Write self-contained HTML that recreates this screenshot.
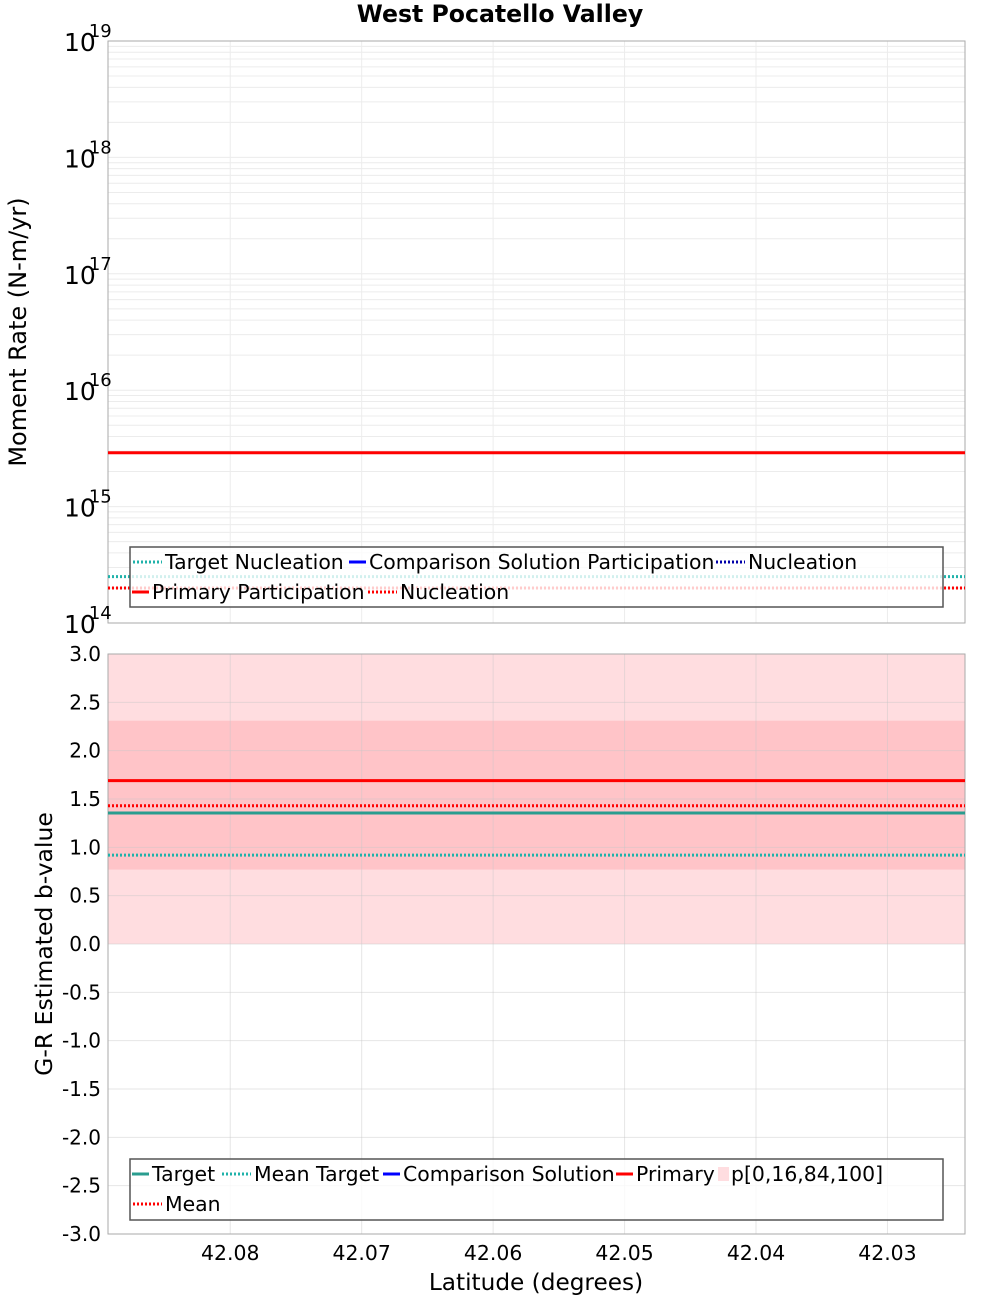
<!DOCTYPE html>
<html><head><meta charset="utf-8">
<style>
html,body{margin:0;padding:0;background:#fff;}
svg{display:block;font-family:"DejaVu Sans","Liberation Sans",sans-serif;}
</style></head>
<body>
<svg id="chart" width="1000" height="1300" viewBox="0 0 1000 1300"></svg>
<script>
// ---- data ----
const latRange = [42.0893, 42.0241]; // x domain (reversed)
const xTicks = [42.08, 42.07, 42.06, 42.05, 42.04, 42.03];
const topDecades = [14, 15, 16, 17, 18, 19];
const momentPrimary = 2.9e15;
const momentTargetNucleation = 2.5e14;
const momentNucleation = 2.0e14;
const bTicks = [3.0, 2.5, 2.0, 1.5, 1.0, 0.5, 0.0, -0.5, -1.0, -1.5, -2.0, -2.5, -3.0];
const bPrimary = 1.69;
const bMean = 1.43;
const bTarget = 1.355;
const bMeanTarget = 0.92;
const bBandOuter = [0.0, 3.0];
const bBandInner = [0.77, 2.31];

const NS = "http://www.w3.org/2000/svg";
const svg = document.getElementById('chart');
function mk(tag, attrs, parent, text){
  const e = document.createElementNS(NS, tag);
  for (const k in attrs) e.setAttribute(k, attrs[k]);
  if (text !== undefined) e.textContent = text;
  (parent || svg).appendChild(e);
  return e;
}
const L = 108, R = 965;
const top1 = 41, bot1 = 623, top2 = 654, bot2 = 1234;
const xs = v => L + (v - latRange[0]) / (latRange[1] - latRange[0]) * (R - L);
const ys1 = v => bot1 - (Math.log10(v) - 14) / 5 * (bot1 - top1);
const ys2 = v => bot2 - (v + 3) / 6 * (bot2 - top2);

// title
const title = mk('text', {x: 500, y: 22, 'text-anchor': 'middle', 'font-size': 23.6, 'font-weight': 'bold'}, svg, 'West Pocatello Valley');



// ---- top plot ----
const g1 = mk('g', {});


for (let d = 14; d < 19; d++) {
  for (let m = 1; m <= 9; m++) {
    const y = ys1(m * Math.pow(10, d));
    mk('line', {x1: L, x2: R, y1: y, y2: y, stroke: '#ececec', 'stroke-width': 1}, g1);
  }
}
xTicks.forEach(t => { const x = xs(t); mk('line', {x1: x, x2: x, y1: top1, y2: bot1, stroke: '#ececec'}, g1); });
mk('rect', {x: L, y: top1, width: R - L, height: bot1 - top1, fill: 'none', stroke: '#aaa'}, g1);
topDecades.forEach(d => {
  const y = ys1(Math.pow(10, d));
  const t = mk('text', {x: 64, y: y + 10, 'font-size': 25}, g1);
  
  
  mk('tspan', {}, t, '10');
  mk('tspan', {dx: -7, dy: -14, 'font-size': 18}, t, String(d));
});
const yt1 = mk('text', {x: 26, y: 332, 'font-size': 24, 'text-anchor': 'middle', transform: 'rotate(-90 26 332)'}, g1, 'Moment Rate (N-m/yr)');


function hline(g, y, color, dash, w, name){
  const l = mk('line', {x1: L, x2: R, y1: y, y2: y, stroke: color, 'stroke-width': w}, g);
  if (dash) l.setAttribute('stroke-dasharray', dash);
  
  
}
hline(g1, ys1(momentPrimary), '#ff0000', null, 3, 'primary-participation-line');
hline(g1, ys1(momentTargetNucleation), '#20b2aa', '2,2', 3, 'target-nucleation-line');
hline(g1, ys1(momentNucleation), '#ff0000', '2,2', 3, 'nucleation-line');

function legend(g, x, y, w, h, items, name){
  const lg = mk('g', {}, g);
  
  
  mk('rect', {x, y, width: w, height: h, fill: 'rgba(255,255,255,0.8)', stroke: '#555', 'stroke-width': 1.5}, lg);
  items.forEach(it => {
    const e = mk('g', {}, lg);
    
    
    let tx;
    if (it.box) { mk('rect', {x: it.x, y: it.y - 7, width: 11, height: 14, fill: '#ffdde0'}, e); tx = it.x + 13; }
    else {
      const len = it.d ? 29 : 17;
      const l = mk('line', {x1: it.x, x2: it.x + len, y1: it.y, y2: it.y, stroke: it.c, 'stroke-width': 3}, e);
      if (it.d) l.setAttribute('stroke-dasharray', '2,2');
      tx = it.x + len + 3;
    }
    mk('text', {x: tx, y: it.y + 7, 'font-size': 20.4}, e, it.t);
  });
}
legend(g1, 130, 547, 813, 60, [
  {x: 133, y: 562, c: '#20b2aa', d: true, t: 'Target Nucleation'},
  {x: 349, y: 562, c: '#0000ff', t: 'Comparison Solution Participation'},
  {x: 716, y: 562, c: '#0000aa', d: true, t: 'Nucleation'},
  {x: 132, y: 592, c: '#ff0000', t: 'Primary Participation'},
  {x: 368, y: 592, c: '#ff0000', d: true, t: 'Nucleation'}
], 'moment-legend');

// ---- bottom plot ----
const g2 = mk('g', {});


const bo = mk('rect', {x: L, y: ys2(bBandOuter[1]), width: R - L, height: ys2(bBandOuter[0]) - ys2(bBandOuter[1]), fill: '#ffdde0'}, g2);


const bi = mk('rect', {x: L, y: ys2(bBandInner[1]), width: R - L, height: ys2(bBandInner[0]) - ys2(bBandInner[1]), fill: '#ffc4c8'}, g2);


bTicks.forEach(t => {
  const y = ys2(t);
  mk('line', {x1: L, x2: R, y1: y, y2: y, stroke: 'rgba(200,200,200,0.45)'}, g2);
  const tx = mk('text', {x: 101, y: y + 7, 'font-size': 20, 'text-anchor': 'end'}, g2, t.toFixed(1));
  
  
});
xTicks.forEach(t => {
  const x = xs(t);
  mk('line', {x1: x, x2: x, y1: top2, y2: bot2, stroke: 'rgba(200,200,200,0.45)'}, g2);
  const tx = mk('text', {x, y: 1260, 'font-size': 20.4, 'text-anchor': 'middle'}, g2, t.toFixed(2));
  
  
});
mk('rect', {x: L, y: top2, width: R - L, height: bot2 - top2, fill: 'none', stroke: '#aaa'}, g2);
hline(g2, ys2(bPrimary), '#ff0000', null, 3, 'primary-b-line');
hline(g2, ys2(bMean), '#ff0000', '2,2', 3, 'mean-b-line');
hline(g2, ys2(bTarget), '#2a9d8f', null, 3, 'target-b-line');
hline(g2, ys2(bMeanTarget), '#20b2aa', '2,2', 3, 'mean-target-b-line');
const yt2 = mk('text', {x: 52, y: 944, 'font-size': 23.5, 'text-anchor': 'middle', transform: 'rotate(-90 52 944)'}, g2, 'G-R Estimated b-value');


const xt = mk('text', {x: 536, y: 1290, 'font-size': 23.2, 'text-anchor': 'middle'}, g2, 'Latitude (degrees)');


legend(g2, 130, 1159, 813, 61, [
  {x: 132, y: 1174, c: '#2a9d8f', t: 'Target'},
  {x: 222, y: 1174, c: '#20b2aa', d: true, t: 'Mean Target'},
  {x: 383, y: 1174, c: '#0000ff', t: 'Comparison Solution'},
  {x: 616, y: 1174, c: '#ff0000', t: 'Primary'},
  {x: 718, y: 1174, box: true, t: 'p[0,16,84,100]'},
  {x: 133, y: 1204, c: '#ff0000', d: true, t: 'Mean'}
], 'b-value-legend');
</script>
</body></html>
